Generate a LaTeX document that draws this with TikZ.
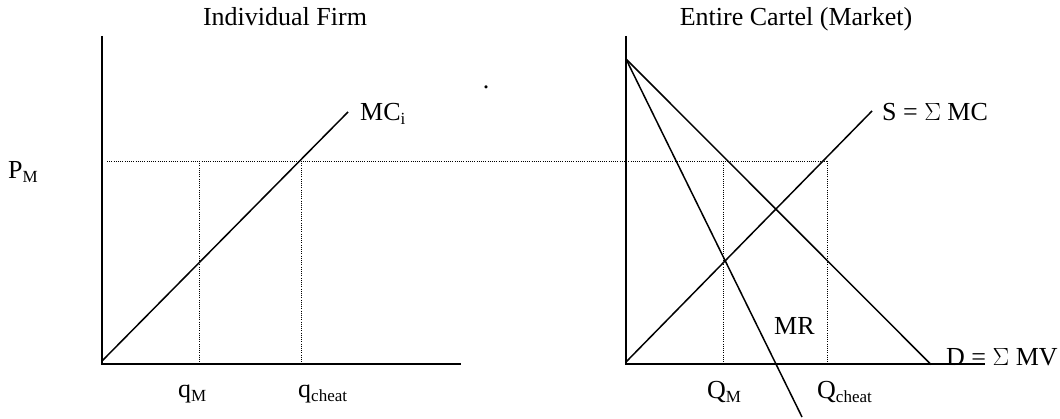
\documentclass[tikz,border=0pt]{standalone}
\usepackage{fontspec}
\setmainfont{Liberation Serif}
\newcommand{\sbs}[1]{\raisebox{-4pt}{\fontsize{17}{20}\selectfont #1}}
\begin{document}
\begin{tikzpicture}[x=1pt,y=-1pt,
  lbl/.style={inner sep=0pt, font=\fontsize{26}{30}\selectfont},
  axisline/.style={line width=2pt},
  curve/.style={line width=1.5pt},
  guide/.style={line width=0.9pt, dash pattern=on 1pt off 1.2pt}]
\useasboundingbox (0,0) rectangle (1060,419);
% titles
\node[lbl, anchor=base] (t1) at (285,26) {Individual Firm};
\node[lbl, anchor=base] (t2) at (796,26) {Entire Cartel (Market)};
\node[lbl, anchor=base] (dot) at (486,88.5) {.};
% coordinates left
\coordinate (Ltop) at (101.7,36);
\coordinate (O1) at (101.7,364.5);
\coordinate (Lend) at (461,364.5);
\coordinate (MCs) at (102,361);
\coordinate (MCe) at (348,112);
\coordinate (Pl) at (107,161);
\coordinate (Pr) at (827,161);
\coordinate (qMt) at (199,161);
\coordinate (qMb) at (199,364.5);
\coordinate (qCt) at (301,161);
\coordinate (qCb) at (301,364.5);
% coordinates right
\coordinate (Rtop) at (626,36);
\coordinate (O2) at (626,364.5);
\coordinate (Rend) at (985,364.5);
\coordinate (T) at (626,59);
\coordinate (De) at (931,364.5);
\coordinate (MRe) at (802,417);
\coordinate (Ss) at (626,362);
\coordinate (Se) at (872,111);
\coordinate (QMt) at (723,161);
\coordinate (QMb) at (723,364.5);
\coordinate (QCt) at (827,161);
\coordinate (QCb) at (827,364.5);
% guides
\draw[guide] (Pl) -- (Pr);
\draw[guide] (qMt) -- (qMb);
\draw[guide] (qCt) -- (qCb);
\draw[guide] (QMt) -- (QMb);
\draw[guide] (QCt) -- (QCb);
% axes
\draw[axisline] (Ltop) -- (O1) -- (Lend);
\draw[axisline] (Rtop) -- (O2) -- (Rend);
% curves
\draw[curve] (MCs) -- (MCe);
\draw[curve] (T) -- (De);
\draw[curve] (T) -- (MRe);
\draw[curve] (Ss) -- (Se);
% labels
\node[lbl, anchor=base west] (pm) at (8,179) {P\sbs{M}};
\node[lbl, anchor=base west] (mci) at (360,121) {MC\sbs{i}};
\node[lbl, anchor=base west] (smc) at (882,121) {S = $\Sigma$ MC};
\node[lbl, anchor=base west] (mr) at (774,335) {MR};
\node[lbl, anchor=base west] (dmv) at (946,366) {D = $\Sigma$ MV};
\node[lbl, anchor=base west] (qm) at (178,398) {q\sbs{M}};
\node[lbl, anchor=base west] (qc) at (298,398) {q\sbs{cheat}};
\node[lbl, anchor=base west] (Qm) at (707,399) {Q\sbs{M}};
\node[lbl, anchor=base west] (Qc) at (817,399) {Q\sbs{cheat}};
\end{tikzpicture}
\end{document}
